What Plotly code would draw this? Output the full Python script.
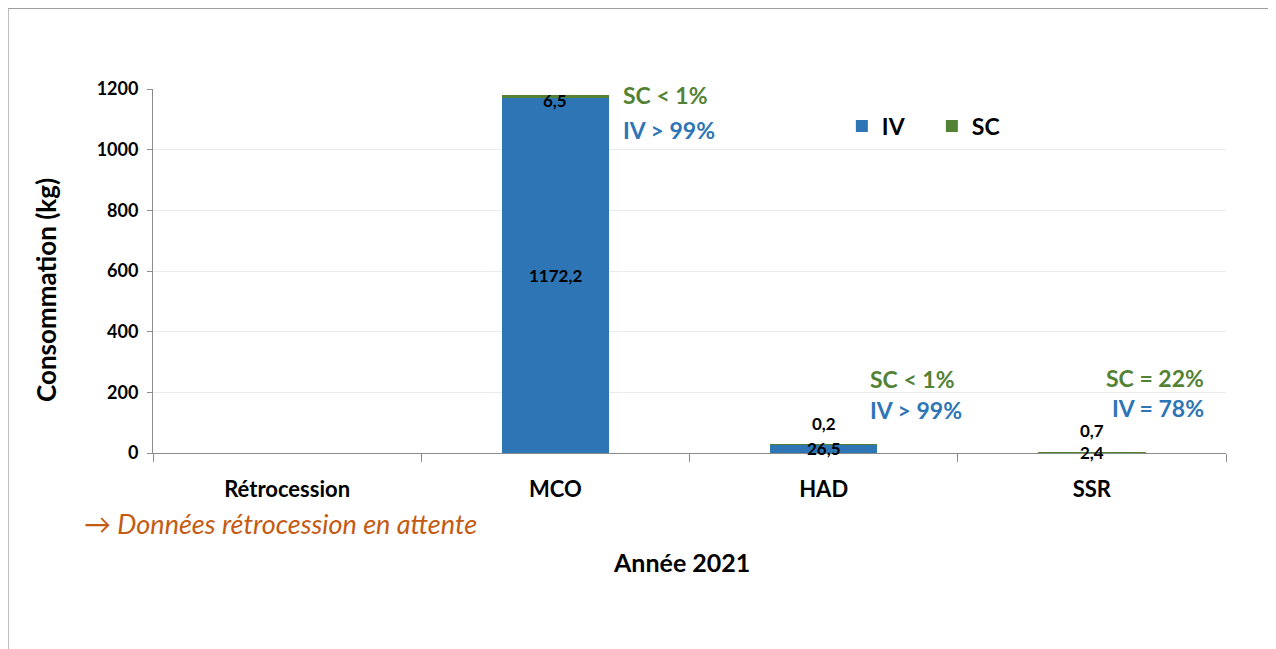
import plotly.graph_objects as go

categories = ["Rétrocession", "MCO", "HAD", "SSR"]
iv_values = [None, 1172.2, 26.5, 2.4]
sc_values = [None, 6.5, 0.2, 0.7]
iv_labels = ["", "1172,2", "26,5", "2,4"]
sc_labels = ["", "6,5", "0,2", "0,7"]
share_sc = ["", "SC < 1%", "SC < 1%", "SC = 22%"]
share_iv = ["", "IV > 99%", "IV > 99%", "IV = 78%"]

BLUE = "#2E75B6"
GREEN = "#548235"
FONT = "Lato"

fig = go.Figure()
fig.add_trace(go.Bar(x=categories, y=iv_values, name="IV", marker_color=BLUE,
                     marker_line_width=0, width=0.4, hoverinfo="skip"))
fig.add_trace(go.Bar(x=categories, y=sc_values, name="SC", marker_color=GREEN,
                     marker_line_width=0, width=0.4, hoverinfo="skip"))

label_font = dict(family=FONT, size=17, color="black", weight="bold")
annotations = []
# value labels
for cat, iv, sc, ivl, scl in zip(categories, iv_values, sc_values, iv_labels, sc_labels):
    if iv is None:
        continue
    annotations.append(dict(x=cat, y=iv / 2, text=ivl, showarrow=False, yanchor="middle",
                            font=label_font))
    top = iv + sc
    if top > 100:
        annotations.append(dict(x=cat, y=top, text=scl, showarrow=False, yanchor="middle",
                                yshift=-5, font=label_font))
    else:
        annotations.append(dict(x=cat, y=top, text=scl, showarrow=False, yanchor="bottom",
                                yshift=9, font=label_font))

# share annotations (paper coords)
share_pos = {
    "MCO": dict(x=0.436, y1=0.984, y2=0.887, xanchor="left"),
    "HAD": dict(x=0.666, y1=0.203, y2=0.118, xanchor="left"),
    "SSR": dict(x=0.981, y1=0.206, y2=0.124, xanchor="right"),
}
for cat, s1, s2 in zip(categories, share_sc, share_iv):
    if cat not in share_pos:
        continue
    p = share_pos[cat]
    annotations.append(dict(xref="paper", yref="paper", x=p["x"], y=p["y1"], xanchor=p["xanchor"],
                            yanchor="middle", showarrow=False, text=s1,
                            font=dict(family=FONT, size=23, color=GREEN, weight="bold")))
    annotations.append(dict(xref="paper", yref="paper", x=p["x"], y=p["y2"], xanchor=p["xanchor"],
                            yanchor="middle", showarrow=False, text=s2,
                            font=dict(family=FONT, size=23, color=BLUE, weight="bold")))

annotations.append(dict(xref="paper", yref="paper", x=-0.066, y=-0.195, xanchor="left", yanchor="middle",
                        showarrow=False, text="<i>→ Données rétrocession en attente</i>",
                        font=dict(family=FONT, size=27, color="#C55A11")))
annotations.append(dict(xref="paper", yref="paper", x=0.493, y=-0.30, xanchor="center", yanchor="middle",
                        showarrow=False, text="Année 2021",
                        font=dict(family=FONT, size=25, color="black", weight="bold")))
# y axis title
annotations.append(dict(xref="paper", yref="paper", x=-0.0997, y=0.448, xanchor="center", yanchor="middle",
                        showarrow=False, text="Consommation (kg)", textangle=-90,
                        font=dict(family=FONT, size=26, color="black", weight="bold")))

fig.update_layout(
    barmode="stack",
    width=1276, height=649,
    margin=dict(l=145, r=58, t=81, b=204),
    paper_bgcolor="white", plot_bgcolor="white",
    font=dict(family=FONT, color="black"),
    annotations=annotations,
    showlegend=True,
    legend=dict(orientation="h", x=0.642, y=0.898, xanchor="left", yanchor="middle",
                font=dict(family=FONT, size=23, color="black", weight="bold"),
                itemwidth=30, entrywidth=45, entrywidthmode="pixels",
                traceorder="normal", bgcolor="rgba(0,0,0,0)"),
    shapes=[dict(type="rect", xref="paper", yref="paper", x0=-0.135, y0=-1.0, x1=1.3, y1=1.221,
                 line=dict(color="#9a9a9a", width=1), fillcolor="rgba(0,0,0,0)", layer="below")],
)
fig.update_xaxes(
    type="category", range=[-0.5, 3.5], showgrid=False,
    showline=True, linecolor="#8c8c8c", linewidth=1,
    ticks="outside", tickson="boundaries", ticklen=8, tickcolor="#8c8c8c",
    ticklabelstandoff=17,
    tickfont=dict(family=FONT, size=22, color="black", weight="bold"),
)
fig.update_yaxes(
    range=[0, 1200], dtick=200, showgrid=True, gridcolor="#ebebeb", gridwidth=1,
    showline=True, linecolor="#8c8c8c", linewidth=1, zeroline=False,
    ticks="outside", ticklen=5, tickcolor="#8c8c8c", ticklabelstandoff=5,
    tickfont=dict(family=FONT, size=18, color="black", weight="bold"),
)

fig.write_html("out.html")
